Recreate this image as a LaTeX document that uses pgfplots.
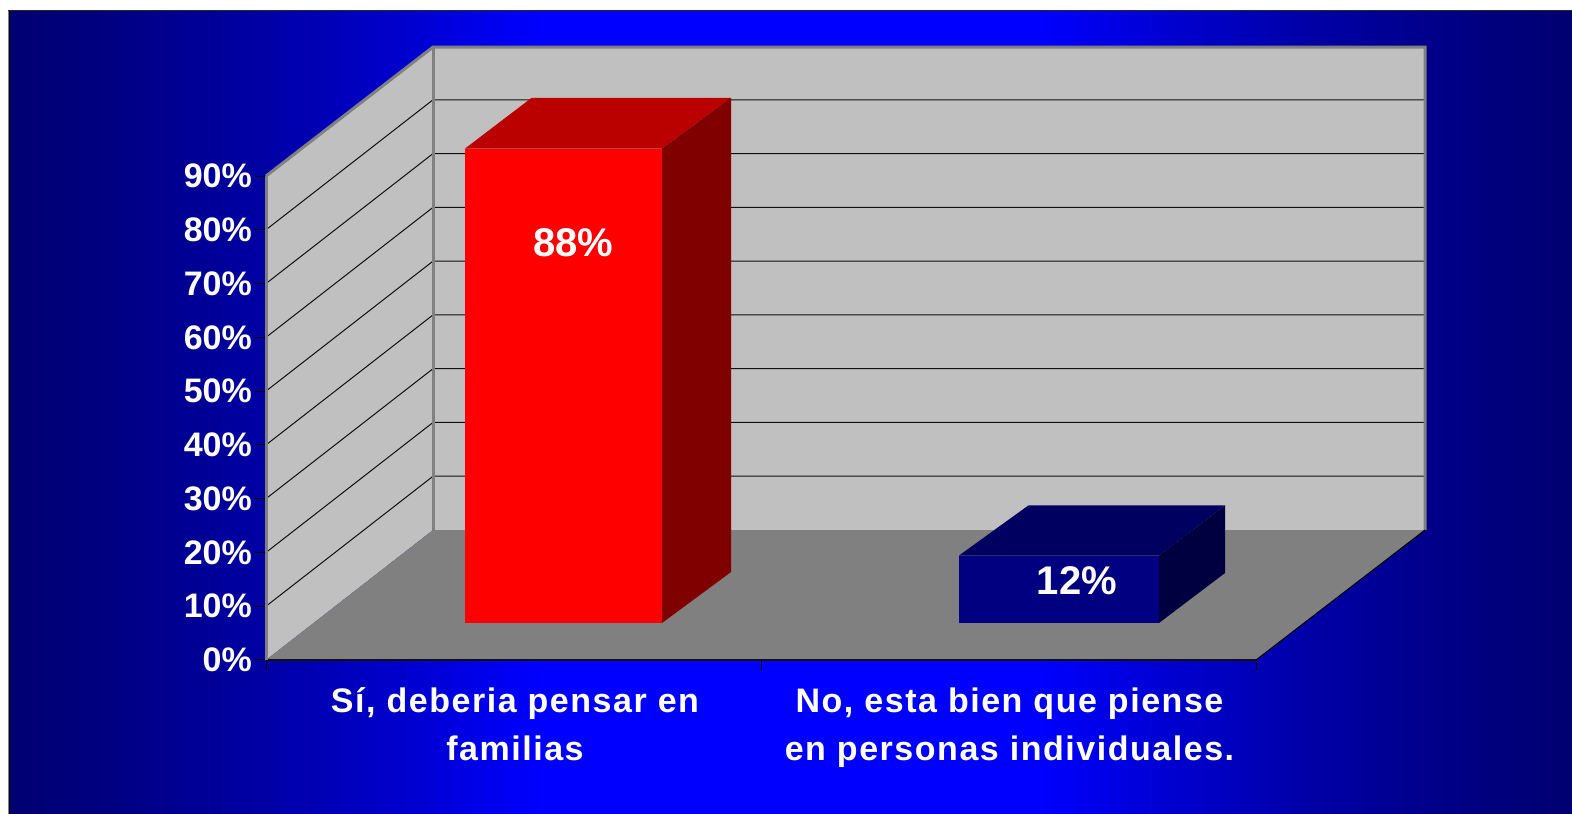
\documentclass[border=0pt]{standalone}
\usepackage{pgfplots}
\pgfplotsset{compat=1.18}
\usepackage{fontspec}
\setmainfont{Liberation Sans}
\newfontfamily\catfont[LetterSpace=4.5]{Liberation Sans}
\definecolor{wall}{HTML}{C0C0C0}
\definecolor{floorc}{HTML}{808080}
\definecolor{gridc}{HTML}{101010}
\pgfdeclarehorizontalshading{bgshade}{100bp}{
 rgb(0bp)=(0,0,0.44);
 rgb(25bp)=(0,0,0.44);
 rgb(28bp)=(0,0,0.50);
 rgb(33bp)=(0,0,0.64);
 rgb(38bp)=(0,0,0.82);
 rgb(42bp)=(0,0,1);
 rgb(58bp)=(0,0,1);
 rgb(62bp)=(0,0,0.82);
 rgb(67bp)=(0,0,0.64);
 rgb(72bp)=(0,0,0.50);
 rgb(75bp)=(0,0,0.44);
 rgb(100bp)=(0,0,0.44)}
\begin{document}
\begin{tikzpicture}[x=1pt,y=1pt]
\path[use as bounding box] (0,0) rectangle (1572,814);
\fill[white] (0,0) rectangle (1572,814);
\shade[shading=bgshade] (8,-3) rectangle (1572,803);
\draw[black!85,line width=1pt] (8,803) -- (1572,803);
\draw[gray,line width=1pt] (8.3,-3) -- (8.3,803);
\draw[black,line width=1pt] (9.3,-3) -- (9.3,803);
\begin{axis}[
  at={(266pt,154pt)},anchor=south west,
  width=990pt,height=484pt,scale only axis,
  xmin=0,xmax=2,ymin=0,ymax=90,clip=false,
  axis on top=true,
  axis x line*=bottom,axis y line*=left,
  axis line style={-},
  x axis line style={draw=gridc,line width=2pt},
  y axis line style={draw=floorc,line width=3pt},
  xtick={0,1,2},xticklabels={},
  ytick={0,10,...,90},
  yticklabels={0\%,10\%,20\%,30\%,40\%,50\%,60\%,70\%,80\%,90\%},
  tick align=outside,major tick length=11pt,
  tick style={draw=black,line width=1pt},
  yticklabel style={font=\fontsize{34}{40}\selectfont\bfseries,text=white,inner sep=0pt,xshift=-3pt},
]
% side wall
\addplot[fill=wall,draw=none] coordinates {(0,0)(0,90)(0.3374,113.98)(0.3374,24.17)} --cycle;
% back wall
\addplot[fill=wall,draw=none] coordinates {(0.3374,24.17)(2.3414,24.17)(2.3414,113.98)(0.3374,113.98)} --cycle;
% floor
\addplot[fill=floorc,draw=none] coordinates {(0,0)(2,0)(2.3414,24.17)(0.3374,24.17)} --cycle;
% gridlines on the side wall and the back wall
\addplot[draw=gridc,line width=1pt] coordinates {(0,10)(0.3374,34.17)(2.3414,34.17)};
\addplot[draw=gridc,line width=1pt] coordinates {(0,20)(0.3374,44.17)(2.3414,44.17)};
\addplot[draw=gridc,line width=1pt] coordinates {(0,30)(0.3374,54.17)(2.3414,54.17)};
\addplot[draw=gridc,line width=1pt] coordinates {(0,40)(0.3374,64.17)(2.3414,64.17)};
\addplot[draw=gridc,line width=1pt] coordinates {(0,50)(0.3374,74.17)(2.3414,74.17)};
\addplot[draw=gridc,line width=1pt] coordinates {(0,60)(0.3374,84.17)(2.3414,84.17)};
\addplot[draw=gridc,line width=1pt] coordinates {(0,70)(0.3374,94.17)(2.3414,94.17)};
\addplot[draw=gridc,line width=1pt] coordinates {(0,80)(0.3374,104.17)(2.3414,104.17)};
% wall borders
\addplot[draw=floorc,line width=3pt] coordinates {(0,90)(0.3374,113.98)(2.3414,113.98)(2.3414,24.17)};
\addplot[draw=floorc,line width=3pt] coordinates {(0.3374,113.98)(0.3374,24.17)};
\addplot[draw=black,line width=1pt] coordinates {(2,0)(2.3414,24.17)};
% red bar, 88%
\addplot[fill={rgb,255:red,187;green,0;blue,0},draw=none] coordinates {(0.402,95.1)(0.8,95.1)(0.9394,104.55)(0.5368,104.55)} --cycle;
\addplot[fill={rgb,255:red,128;green,0;blue,0},draw=none] coordinates {(0.8,6.88)(0.9394,16.36)(0.9394,104.55)(0.8,95.1)} --cycle;
\addplot[fill={rgb,255:red,255;green,0;blue,0},draw=none] coordinates {(0.402,6.88)(0.8,6.88)(0.8,95.1)(0.402,95.1)} --cycle;
% navy bar, 12%
\addplot[fill={rgb,255:red,0;green,0;blue,96},draw=none] coordinates {(1.4,19.43)(1.804,19.43)(1.9374,28.73)(1.54,28.73)} --cycle;
\addplot[fill={rgb,255:red,0;green,0;blue,64},draw=none] coordinates {(1.804,6.88)(1.9374,16.18)(1.9374,28.73)(1.804,19.43)} --cycle;
\addplot[fill={rgb,255:red,0;green,0;blue,128},draw=none] coordinates {(1.4,6.88)(1.804,6.88)(1.804,19.43)(1.4,19.43)} --cycle;
% data labels
\node[text=white,font=\fontsize{40}{48}\selectfont\bfseries] at (axis cs:0.6213,77.6) {88\%};
\node[text=white,font=\fontsize{40}{48}\selectfont\bfseries] at (axis cs:1.638,14.8) {12\%};
% category labels
\node[text=white,font=\fontsize{34}{48}\selectfont\bfseries\catfont,align=center,anchor=north] at (axis cs:0.503,-4.5) {Sí, deberia pensar en\\familias};
\node[text=white,font=\fontsize{34}{48}\selectfont\bfseries\catfont,align=center,anchor=north] at (axis cs:1.502,-4.5) {No, esta bien que piense\\en personas individuales.};
\end{axis}
\end{tikzpicture}
\end{document}
